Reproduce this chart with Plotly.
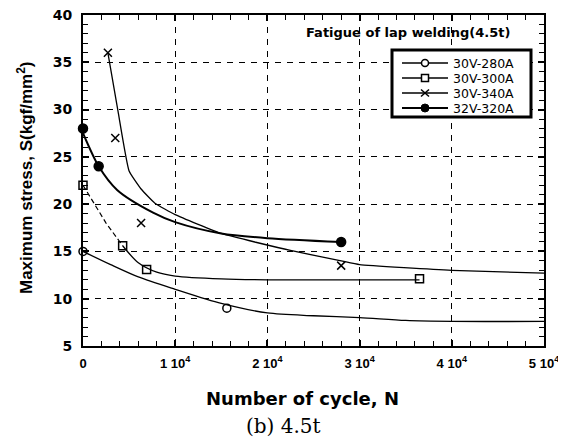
import plotly.graph_objects as go

# ---- data ----
series_names = ["30V-280A", "30V-300A", "30V-340A", "32V-320A"]

# measured points
pts_280_x = [0, 15600]
pts_280_y = [15, 9]
pts_300_x = [0, 4300, 6900, 36500]
pts_300_y = [22, 15.6, 13.1, 12.1]
pts_340_x = [2700, 3500, 6300, 28000]
pts_340_y = [36, 27, 18, 13.5]
pts_320_x = [0, 1700, 28000]
pts_320_y = [28, 24, 16]

# fitted curves
fit_280_x = [0, 3000, 6000, 10000, 15000, 20000, 25000, 30000, 35000, 40000, 50000]
fit_280_y = [15, 13.6, 12.3, 11.0, 9.5, 8.5, 8.2, 8.0, 7.7, 7.6, 7.6]
fit_300_dash_x = [0, 1000, 2500, 4300]
fit_300_dash_y = [22, 20.4, 18, 15.6]
fit_300_x = [4300, 6000, 8000, 10000, 15000, 20000, 30000, 36500]
fit_300_y = [15.6, 13.8, 12.8, 12.4, 12.1, 12.0, 12.0, 12.0]
fit_340_x = [2700, 3800, 5000, 6300, 7800, 10000, 15000, 22500, 28000, 30000, 40000, 50000]
fit_340_y = [36, 29.8, 23.5, 21.6, 20.1, 18.9, 16.9, 15.1, 14.0, 13.6, 13.0, 12.7]
fit_320_x = [0, 1700, 3700, 7600, 10000, 15000, 20000, 28000]
fit_320_y = [27.5, 24, 21.5, 19.1, 18.1, 16.9, 16.4, 16.0]

x_tick_vals = [0, 10000, 20000, 30000, 40000, 50000]
x_tick_text = ["0", "1 10<sup>4</sup>", "2 10<sup>4</sup>", "3 10<sup>4</sup>", "4 10<sup>4</sup>", "5 10<sup>4</sup>"]
y_tick_vals = [5, 10, 15, 20, 25, 30, 35, 40]

symbols = ["circle-open", "square-open", "x-thin-open", "circle"]

# ---- layout geometry (page pixels; the page body has an 8px margin) ----
PAGE_OFF = 8
PLOT_L, PLOT_R, PLOT_T, PLOT_B = 83, 544, 15, 346


def px(p):
    return (p - PLOT_L) / (PLOT_R - PLOT_L)


def py(p):
    return (PLOT_B - p) / (PLOT_B - PLOT_T)


fig = go.Figure()

line_style = dict(color="black", width=1.3, shape="spline", smoothing=0.8)

fig.add_trace(go.Scatter(x=fit_280_x, y=fit_280_y, mode="lines", line=line_style, showlegend=False))
fig.add_trace(go.Scatter(x=fit_300_dash_x, y=fit_300_dash_y, mode="lines",
                         line=dict(color="black", width=1.2, dash="5px,3px"), showlegend=False))
fig.add_trace(go.Scatter(x=fit_300_x, y=fit_300_y, mode="lines", line=line_style, showlegend=False))
fig.add_trace(go.Scatter(x=fit_340_x, y=fit_340_y, mode="lines",
                         line=dict(color="black", width=1.3, shape="spline", smoothing=0.4), showlegend=False))
fig.add_trace(go.Scatter(x=fit_320_x, y=fit_320_y, mode="lines",
                         line=dict(color="black", width=2, shape="spline", smoothing=0.8), showlegend=False))

pts = [(pts_280_x, pts_280_y), (pts_300_x, pts_300_y), (pts_340_x, pts_340_y), (pts_320_x, pts_320_y)]
for (xs, ys), sym, name in zip(pts, symbols, series_names):
    fig.add_trace(go.Scatter(x=xs, y=ys, mode="markers", name=name,
                             marker=dict(symbol=sym, size=8 if sym != "circle" else 9, color="black",
                                         line=dict(color="black", width=1.5)),
                             showlegend=False, cliponaxis=False))

# ---- hand-drawn legend (shapes + text) ----
shapes = []
annotations = []
LEG_X0, LEG_X1, LEG_Y0, LEG_Y1 = 392, 531, 50, 117
shapes.append(dict(type="rect", xref="paper", yref="paper",
                   x0=px(LEG_X0), x1=px(LEG_X1), y0=py(LEG_Y1), y1=py(LEG_Y0),
                   line=dict(color="black", width=3), fillcolor="white", layer="above"))
row_y = [63, 78, 93, 108]
LINE_X0, LINE_X1, MARK_X, TEXT_X = 402, 448, 425, 451
for i, (name, sym) in enumerate(zip(series_names, symbols)):
    yy = py(row_y[i])
    shapes.append(dict(type="line", xref="paper", yref="paper",
                       x0=px(LINE_X0), x1=px(LINE_X1), y0=yy, y1=yy,
                       line=dict(color="black", width=1.3 if i < 3 else 2), layer="above"))
    mx = px(MARK_X)
    common = dict(xref="paper", yref="paper", xsizemode="pixel", ysizemode="pixel",
                  xanchor=mx, yanchor=yy, layer="above")
    if sym == "circle-open":
        shapes.append(dict(type="circle", x0=-3.5, x1=3.5, y0=-3.5, y1=3.5,
                           line=dict(color="black", width=1.5), fillcolor="white", **common))
    elif sym == "square-open":
        shapes.append(dict(type="rect", x0=-3.5, x1=3.5, y0=-3.5, y1=3.5,
                           line=dict(color="black", width=1.5), fillcolor="white", **common))
    elif sym == "x-thin-open":
        shapes.append(dict(type="line", x0=-4, x1=4, y0=-3.5, y1=3.5,
                           line=dict(color="black", width=1.5), **common))
        shapes.append(dict(type="line", x0=-4, x1=4, y0=3.5, y1=-3.5,
                           line=dict(color="black", width=1.5), **common))
    else:
        shapes.append(dict(type="circle", x0=-4, x1=4, y0=-4, y1=4,
                           line=dict(color="black", width=1), fillcolor="black", **common))
    annotations.append(dict(text=name, xref="paper", yref="paper", x=px(TEXT_X), y=yy,
                            xanchor="left", yanchor="middle", showarrow=False,
                            font=dict(family="DejaVu Sans", size=12.5, color="black")))

annotations += [
    dict(text="<b>Fatigue of lap welding(4.5t)</b>", xref="paper", yref="paper",
         x=px(408), y=py(33), xanchor="center", yanchor="middle", showarrow=False,
         font=dict(family="DejaVu Sans", size=13, color="black")),
    dict(text="<b>Maximum stress, S(kgf/mm<sup>2</sup>)</b>", xref="paper", yref="paper",
         x=px(25), y=py(178), xanchor="center", yanchor="middle", showarrow=False, textangle=-90,
         font=dict(family="Liberation Sans Narrow, Liberation Sans", size=17, color="black")),
    dict(text="<b>Number of cycle, N</b>", xref="paper", yref="paper",
         x=px(302), y=py(398), xanchor="center", yanchor="middle", showarrow=False,
         font=dict(family="DejaVu Sans", size=18, color="black")),
    dict(text="(b) 4.5t", xref="paper", yref="paper",
         x=px(283), y=py(426), xanchor="center", yanchor="middle", showarrow=False,
         font=dict(family="DejaVu Serif, Liberation Serif, serif", size=20, color="black")),
]

W, H = 566 - PAGE_OFF, 446 - PAGE_OFF
fig.update_layout(
    width=W, height=H,
    margin=dict(l=PLOT_L - PAGE_OFF, r=W - (PLOT_R - PAGE_OFF), t=PLOT_T - PAGE_OFF, b=H - (PLOT_B - PAGE_OFF)),
    paper_bgcolor="white", plot_bgcolor="white",
    showlegend=False,
    font=dict(family="DejaVu Sans, Liberation Sans, sans-serif", color="black"),
    xaxis=dict(range=[0, 50000], tickmode="array", tickvals=x_tick_vals, ticktext=x_tick_text,
               ticks="inside", ticklen=6, tickwidth=1.5, tickcolor="black",
               minor=dict(dtick=2000, ticks="inside", ticklen=5, tickwidth=1.2, tickcolor="black", showgrid=False),
               showline=True, linecolor="black", linewidth=2, mirror="ticks",
               showgrid=True, gridcolor="black", griddash="6px,6px", gridwidth=1.2,
               zeroline=False, tickfont=dict(family="Liberation Sans", size=13, color="black", weight="bold"),
               ticklabelstandoff=4, ticklabeloverflow="allow", automargin=False),
    yaxis=dict(range=[5, 40], tickmode="array", tickvals=y_tick_vals,
               ticks="inside", ticklen=6, tickwidth=1.5, tickcolor="black",
               minor=dict(dtick=1, ticks="inside", ticklen=5, tickwidth=1.2, tickcolor="black", showgrid=False),
               showline=True, linecolor="black", linewidth=2, mirror="ticks",
               showgrid=True, gridcolor="black", griddash="6px,6px", gridwidth=1.2,
               zeroline=False, tickfont=dict(family="DejaVu Sans", size=14, color="black", weight="bold"),
               ticklabelstandoff=6, ticklabeloverflow="allow", automargin=False),
    shapes=shapes,
    annotations=annotations,
)

fig.write_html("out.html")
